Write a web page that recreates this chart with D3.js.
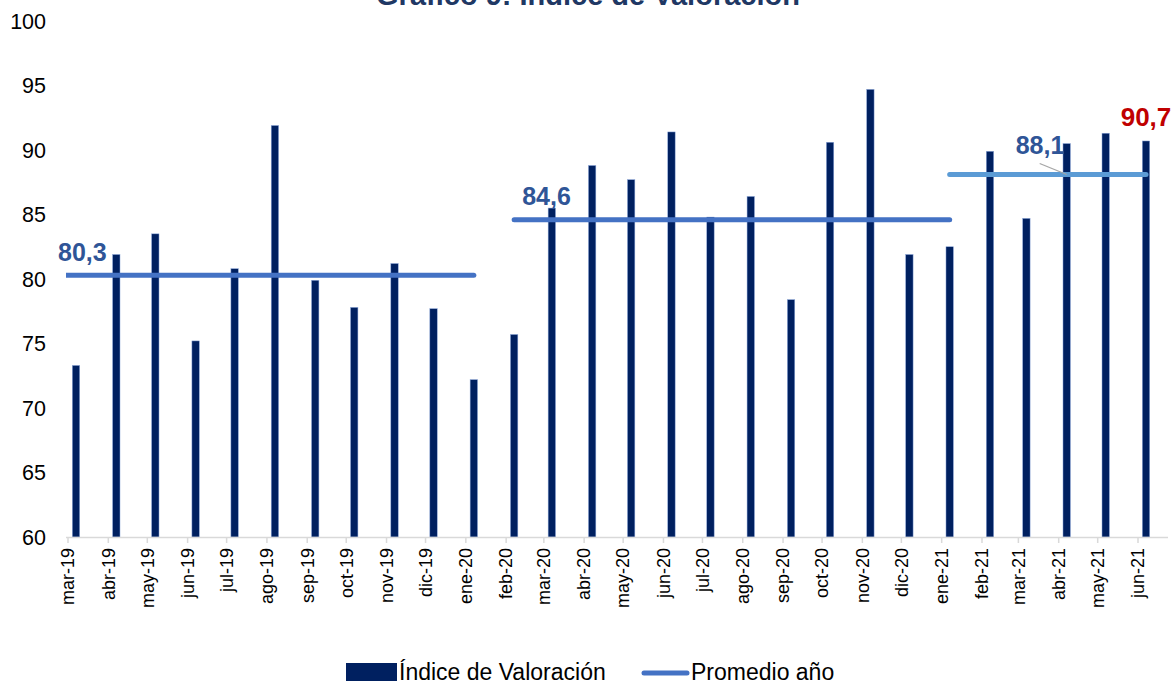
<!DOCTYPE html>
<html>
<head>
<meta charset="utf-8">
<script src="https://cdn.jsdelivr.net/npm/d3@7"></script>
<style>
    body { margin: 0; background: #fff; }
    svg { font-family: "Liberation Sans", Arial, sans-serif; }
</style>
</head>
<body>
<svg id="chart" width="1174" height="681" viewBox="0 0 1174 681"></svg>
<script>
// monthly index values
let months = ["mar-19", "abr-19", "may-19", "jun-19", "jul-19", "ago-19", "sep-19", "oct-19", "nov-19", "dic-19",
    "ene-20", "feb-20", "mar-20", "abr-20", "may-20", "jun-20", "jul-20", "ago-20", "sep-20", "oct-20", "nov-20", "dic-20",
    "ene-21", "feb-21", "mar-21", "abr-21", "may-21", "jun-21"]
let values = [73.3, 81.9, 83.5, 75.2, 80.8, 91.9, 79.9, 77.8, 81.2, 77.7,
    72.2, 75.7, 85.5, 88.8, 87.7, 91.4, 84.8, 86.4, 78.4, 90.6, 94.7, 81.9,
    82.5, 89.9, 84.7, 90.5, 91.3, 90.7]

// yearly averages and the months each segment is drawn across
let avgValues = [80.3, 84.6, 88.1]
let avgLabels = ["80,3", "84,6", "88,1"]
let avgFrom = ["feb-19", "feb-20", "ene-21"]
let avgTo = ["ene-20", "ene-21", "jun-21"]

let yTicks = [60, 65, 70, 75, 80, 85, 90, 95, 100]
let lastLabel = "90,7"

let monthAbbr = ["ene", "feb", "mar", "abr", "may", "jun", "jul", "ago", "sep", "oct", "nov", "dic"]
function toDate(s) {
    let p = s.split('-')
    return new Date(2000 + parseInt(p[1]), monthAbbr.indexOf(p[0]), 1)
}

let data = months.map(function (m, i) {
    return {label: m, date: toDate(m), value: values[i]}
})

let svg = d3.select('#chart')
let plotLeft = 66, plotRight = 1168
let barOffset = 8
let barWidth = 7.4

let x = d3.scaleTime()
    .domain([toDate("mar-19"), toDate("jun-21")])
    .range([68, 1138])
let y = d3.scaleLinear()
    .domain([60, 100])
    .range([537, 21])

svg.append("defs").append("clipPath")
    .attr("id", "plotclip")
    .append("rect")
    .attr("x", plotLeft)
    .attr("y", 0)
    .attr("width", plotRight - plotLeft)
    .attr("height", 540)

// title (cut at the top edge as in the source)
svg.append("text")
    .attr("x", 588)
    .attr("y", 5)
    .attr("text-anchor", "middle")
    .style("font-size", "29px")
    .style("font-weight", "bold")
    .style("fill", "#1F3864")
    .text("Gráfico 9: Índice de Valoración")

// y axis labels only
svg.append("g")
    .selectAll("text")
    .data(yTicks)
    .enter()
    .append("text")
    .attr("x", 46)
    .attr("y", function (d) { return y(d) })
    .attr("dy", "0.35em")
    .attr("text-anchor", "end")
    .style("font-size", "21.5px")
    .style("fill", "#000")
    .text(function (d) { return d })

// bars
svg.append("g")
    .selectAll("rect")
    .data(data)
    .enter()
    .append("rect")
    .attr("x", function (d) { return x(d.date) + barOffset - barWidth / 2 })
    .attr("y", function (d) { return y(d.value) })
    .attr("width", barWidth)
    .attr("height", function (d) { return y(60) - y(d.value) })
    .attr("fill", "#002060")
    .attr("stroke", "#8FAADC")
    .attr("stroke-width", 0.5)

// x axis
let xAxis = svg.append("g")
xAxis.append("line")
    .attr("x1", plotLeft)
    .attr("x2", plotRight)
    .attr("y1", y(60) + 0.5)
    .attr("y2", y(60) + 0.5)
    .attr("stroke", "#d9d9d9")
    .attr("stroke-width", 1.5)
xAxis.selectAll(".tick")
    .data(data)
    .enter()
    .append("line")
    .attr("x1", function (d) { return x(d.date) })
    .attr("x2", function (d) { return x(d.date) })
    .attr("y1", y(60))
    .attr("y2", y(60) + 6)
    .attr("stroke", "#d9d9d9")
    .attr("stroke-width", 1.5)
xAxis.selectAll(".lbl")
    .data(data)
    .enter()
    .append("text")
    .attr("transform", function (d) { return `translate(${x(d.date)},${y(60) + 11}) rotate(-90)` })
    .attr("dy", "0.35em")
    .attr("text-anchor", "end")
    .style("font-size", "18px")
    .style("fill", "#000")
    .text(function (d) { return d.label })

// average lines
let avgColors = ["#4472C4", "#4472C4", "#5B9BD5"]
svg.append("g")
    .attr("clip-path", "url(#plotclip)")
    .selectAll("line")
    .data(avgValues)
    .enter()
    .append("line")
    .attr("x1", function (d, i) { return x(toDate(avgFrom[i])) + barOffset })
    .attr("x2", function (d, i) { return x(toDate(avgTo[i])) + barOffset })
    .attr("y1", function (d) { return y(d) })
    .attr("y2", function (d) { return y(d) })
    .attr("stroke", function (d, i) { return avgColors[i] })
    .attr("stroke-width", 5)
    .attr("stroke-linecap", "round")

// average labels
let labelPos = [
    {dx: -10, dy: -23},
    {dx: 8, dy: -23},
    {dx: 66, dy: -29}
]
let labelAnchor = [x(toDate("mar-19")), x(toDate("feb-20")) + barOffset, x(toDate("ene-21")) + barOffset]
svg.append("g")
    .selectAll("text")
    .data(avgValues)
    .enter()
    .append("text")
    .attr("x", function (d, i) { return labelAnchor[i] + labelPos[i].dx })
    .attr("y", function (d, i) { return y(d) + labelPos[i].dy })
    .attr("dy", "0.35em")
    .style("font-size", "25px")
    .style("font-weight", "bold")
    .style("fill", "#2F5597")
    .text(function (d, i) { return avgLabels[i] })

// leader line for the 2021 label
let leaderEnd = x(toDate("abr-21")) + barOffset
svg.append("line")
    .attr("x1", leaderEnd - 27)
    .attr("y1", y(avgValues[2]) - 11)
    .attr("x2", leaderEnd)
    .attr("y2", y(avgValues[2]))
    .attr("stroke", "#a6a6a6")
    .attr("stroke-width", 1.3)

// last value label
let last = data[data.length - 1]
svg.append("text")
    .attr("x", x(last.date) + barOffset)
    .attr("y", y(last.value) - 24)
    .attr("dy", "0.35em")
    .attr("text-anchor", "middle")
    .style("font-size", "26px")
    .style("font-weight", "bold")
    .style("fill", "#C00000")
    .text(lastLabel)

// legend
let legend = svg.append("g")
legend.append("rect")
    .attr("x", 346)
    .attr("y", 663)
    .attr("width", 51)
    .attr("height", 20)
    .attr("fill", "#002060")
legend.append("text")
    .attr("x", 399)
    .attr("y", 680)
    .style("font-size", "23px")
    .style("fill", "#000")
    .text("Índice de Valoración")
legend.append("line")
    .attr("x1", 644)
    .attr("x2", 687)
    .attr("y1", 673)
    .attr("y2", 673)
    .attr("stroke", "#4472C4")
    .attr("stroke-width", 5)
    .attr("stroke-linecap", "round")
legend.append("text")
    .attr("x", 691)
    .attr("y", 680)
    .style("font-size", "23px")
    .style("fill", "#000")
    .text("Promedio año")
</script>
</body>
</html>
